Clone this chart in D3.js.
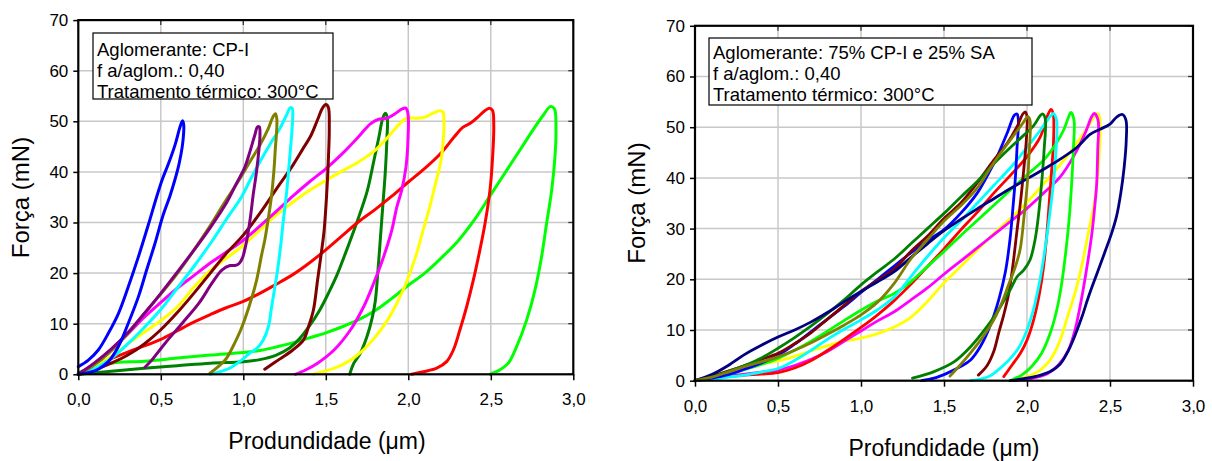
<!DOCTYPE html>
<html><head><meta charset="utf-8">
<script src="https://cdn.jsdelivr.net/npm/d3@7"></script>
<style>
body{margin:0;background:#fff}
svg{display:block}
text{font-family:Arial,"Liberation Sans",sans-serif;fill:#000}
</style>
</head><body>
<svg id="chart" width="1212" height="461"></svg>
<script>
// ---------- tick values / labels ----------
const xTicks = [0, 0.5, 1, 1.5, 2, 2.5, 3];
const yTicks = [0, 10, 20, 30, 40, 50, 60, 70];
const xDomain = [0, 3];
const yDomain = [0, 70];

const leftNote  = ["Aglomerante: CP-I", "f a/aglom.: 0,40", "Tratamento térmico: 300°C"];
const rightNote = ["Aglomerante: 75% CP-I e 25% SA", "f a/aglom.: 0,40", "Tratamento térmico: 300°C"];
const leftXTitle  = "Produndidade (\u03BCm)";
const rightXTitle = "Profundidade (\u03BCm)";
const yTitle = "Força (mN)";

// ---------- left panel series: [depth µm, force mN], loading then unloading ----------
const L_blue = [[0,1.5],[0.061,2.8],[0.121,4.8],[0.182,8.1],[0.243,12.0],[0.303,17.3],[0.364,23.2],[0.424,29.5],[0.475,35.1],[0.51,38.6],[0.545,41.5],[0.586,45.3],[0.612,48.4],[0.624,49.6],[0.632,50.1],[0.639,49.3],[0.638,47.5],[0.63,45],[0.61,41.5],[0.585,38.4],[0.555,35.2],[0.525,32.5],[0.505,30.5],[0.465,25.9],[0.414,20.6],[0.364,15.3],[0.303,10.1],[0.243,5.5],[0.182,2.5],[0.121,1.0],[0.061,0.3],[0.0,0]];
const L_purple = [[0,0],[0.1,2.3],[0.2,5.0],[0.3,8.2],[0.4,12.0],[0.5,16.0],[0.6,20.2],[0.7,24.5],[0.8,29.0],[0.9,34.0],[0.96,37.8],[1.01,41.0],[1.04,44.0],[1.07,47.3],[1.086,48.9],[1.097,48.9],[1.101,47.3],[1.095,44.5],[1.08,40],[1.06,35.5],[1.045,31.5],[1.025,27.2],[1.01,24.8],[0.995,23],[0.975,21.9],[0.95,21.5],[0.92,21.5],[0.87,20.6],[0.81,18.0],[0.73,14.0],[0.63,10.1],[0.525,6.1],[0.445,2.8],[0.404,1.4]];
const L_olive = [[0,0],[0.081,1.5],[0.182,4.1],[0.283,7.4],[0.384,11.4],[0.485,15.3],[0.586,19.3],[0.687,23.9],[0.788,28.8],[0.889,34.1],[0.98,38.7],[1.04,42.0],[1.101,45.3],[1.152,48.6],[1.18,50.9],[1.195,51.5],[1.203,50.5],[1.202,48],[1.195,45],[1.185,40],[1.17,35],[1.15,30.5],[1.13,26.5],[1.111,23.6],[1.08,18.5],[1.036,13.5],[0.986,8.9],[0.939,5.6],[0.899,3.2],[0.848,1.5],[0.798,0.2]];
const L_cyan = [[0,0],[0.101,1.2],[0.202,3.2],[0.303,6.1],[0.404,9.4],[0.505,13.0],[0.606,17.3],[0.707,21.6],[0.808,26.2],[0.909,31.2],[0.99,35.1],[1.04,38.3],[1.101,42.0],[1.172,46.0],[1.222,48.6],[1.263,51.3],[1.285,52.7],[1.297,52.5],[1.299,50.5],[1.293,47.3],[1.279,42.0],[1.263,36.1],[1.242,30.2],[1.225,25],[1.205,20],[1.19,17],[1.172,13.4],[1.152,9.4],[1.121,6.8],[1.081,5.1],[1.04,4.2],[0.99,2.8],[0.91,1.1],[0.8,0]];
const L_maroon = [[0,0],[0.1,0.9],[0.2,2.2],[0.3,3.8],[0.4,6.0],[0.5,8.8],[0.6,12.2],[0.7,16.0],[0.8,20.0],[0.9,24.0],[1.0,27.5],[1.1,31.8],[1.2,36.6],[1.3,41.3],[1.36,44.5],[1.41,47.2],[1.45,50.3],[1.48,52.6],[1.5,53.3],[1.515,52.8],[1.521,48.6],[1.515,42],[1.505,35.4],[1.49,28.5],[1.475,24.5],[1.45,18.6],[1.425,12.7],[1.395,9.4],[1.365,6.8],[1.3,4.8],[1.22,3.0],[1.13,1.0]];
const L_magenta = [[0,0],[0.1,2.2],[0.2,5.0],[0.3,8.0],[0.4,11.3],[0.5,14.2],[0.6,17.0],[0.7,19.5],[0.8,22.0],[0.9,24.2],[1.0,26.5],[1.1,29.3],[1.2,32.2],[1.3,35.2],[1.4,38.0],[1.5,40.6],[1.6,43.6],[1.7,47.0],[1.77,49.5],[1.82,50.4],[1.87,50.6],[1.92,51.5],[1.96,52.4],[1.985,52.6],[1.998,51.5],[1.998,46.3],[1.986,41.0],[1.96,36.4],[1.93,33.0],[1.9,28.5],[1.85,23.2],[1.79,18.0],[1.73,13.4],[1.65,8.8],[1.55,4.8],[1.45,2.2],[1.38,0.9],[1.315,0]];
const L_yellow = [[0,0],[0.1,1.5],[0.2,3.5],[0.3,6.0],[0.4,8.3],[0.5,10.6],[0.6,13.3],[0.7,17.2],[0.8,20.5],[0.9,23.0],[1.0,25.5],[1.1,28.5],[1.2,31.5],[1.3,34.0],[1.4,36.3],[1.5,38.3],[1.6,40.2],[1.7,42.0],[1.8,44.3],[1.88,47.0],[1.95,49.6],[1.99,50.6],[2.05,50.6],[2.1,50.8],[2.15,51.6],[2.19,52.1],[2.21,51.8],[2.216,50.3],[2.212,46.3],[2.195,41.7],[2.165,37.7],[2.13,33.1],[2.09,28.5],[2.045,23.3],[1.99,18.3],[1.93,14.0],[1.87,10.5],[1.8,7.4],[1.72,4.6],[1.64,2.6],[1.56,1.3],[1.49,0.6],[1.425,0]];
const L_dgreen = [[0,0],[0.2,0.6],[0.4,1.2],[0.6,1.7],[0.8,2.2],[1.0,2.5],[1.1,2.9],[1.2,3.8],[1.28,5.2],[1.34,7.0],[1.4,9.5],[1.46,12.5],[1.52,16.3],[1.57,19.8],[1.62,24.0],[1.69,30.2],[1.75,36.1],[1.79,42.0],[1.82,46.6],[1.845,50.6],[1.86,51.6],[1.872,50.9],[1.87,46.3],[1.86,39.7],[1.845,33.1],[1.83,26.5],[1.815,20],[1.8,14.5],[1.78,11],[1.75,7.5],[1.71,4.2],[1.67,2.2],[1.645,0]];
const L_red = [[0,0],[0.1,1.8],[0.2,3.1],[0.3,4.4],[0.4,5.6],[0.5,6.9],[0.6,8.6],[0.7,10.3],[0.8,11.8],[0.9,13.2],[1.0,14.4],[1.1,16.0],[1.2,17.8],[1.3,19.7],[1.4,22.0],[1.5,24.6],[1.6,27.4],[1.7,30.2],[1.8,32.6],[1.9,35.2],[2.0,38.0],[2.1,40.7],[2.2,43.8],[2.28,47.0],[2.33,48.8],[2.38,49.7],[2.42,50.8],[2.46,52.0],[2.49,52.6],[2.51,52.2],[2.518,49],[2.511,43.0],[2.495,36.4],[2.465,29.8],[2.434,24.6],[2.394,18.6],[2.354,13.4],[2.313,8.8],[2.273,4.8],[2.232,2.5],[2.172,1.2],[2.091,0.5],[2.02,0]];
const L_lime = [[0,0.3],[0.05,1.0],[0.1,1.5],[0.2,2.2],[0.4,2.6],[0.6,3.2],[0.8,3.8],[1.0,4.3],[1.1,4.7],[1.2,5.4],[1.3,6.2],[1.4,7.2],[1.5,8.2],[1.6,9.4],[1.7,10.8],[1.8,12.6],[1.9,15.0],[2.0,17.6],[2.1,20.0],[2.2,23.0],[2.3,26.3],[2.4,30.5],[2.5,35.5],[2.6,40.5],[2.7,45.5],[2.77,49.0],[2.82,51.3],[2.86,52.9],[2.885,52.5],[2.895,48.3],[2.889,43.0],[2.869,36.4],[2.838,29.8],[2.808,23.3],[2.768,16.7],[2.717,10.7],[2.657,5.5],[2.606,2.2],[2.556,0.9],[2.495,0]];

// ---------- right panel series ----------
const R_blue = [[0,0],[0.1,0.5],[0.2,1.2],[0.3,2.3],[0.4,3.5],[0.5,5.0],[0.6,7.2],[0.7,9.7],[0.8,12.2],[0.9,14.7],[1.0,17.4],[1.1,20.0],[1.2,22.6],[1.3,25.2],[1.4,27.6],[1.5,29.8],[1.6,33],[1.7,37],[1.77,41],[1.82,44.2],[1.88,48.8],[1.925,52.4],[1.94,52.6],[1.948,51.4],[1.94,46],[1.93,40],[1.915,34],[1.898,28],[1.87,21.5],[1.83,16],[1.78,11],[1.72,6.8],[1.66,4.1],[1.6,2.8],[1.52,1.5],[1.44,0.5],[1.365,0]];
const R_maroon = [[0,0],[0.1,0.9],[0.2,1.9],[0.3,3.0],[0.4,4.2],[0.5,5.4],[0.6,7.3],[0.7,9.5],[0.8,12.2],[0.9,14.9],[1.0,17.6],[1.1,19.8],[1.2,22.0],[1.3,25.5],[1.4,28.5],[1.5,32.0],[1.6,35.0],[1.7,39.0],[1.8,43.5],[1.88,46.8],[1.94,50.1],[1.975,52.6],[1.99,53.0],[2.0,52.1],[1.996,47.5],[1.982,42.2],[1.962,35.6],[1.938,29.1],[1.914,22.5],[1.89,17.2],[1.86,13],[1.83,9.5],[1.8,5.8],[1.76,3],[1.707,1.1]];
const R_olive = [[0,0],[0.1,0.7],[0.2,1.7],[0.3,2.8],[0.4,3.7],[0.5,4.7],[0.6,6.0],[0.7,7.5],[0.8,9.2],[0.9,11.0],[1.0,13.0],[1.1,15.5],[1.2,19.2],[1.3,24.0],[1.4,27.8],[1.5,31.5],[1.6,34.5],[1.7,38.0],[1.8,43.0],[1.9,47.5],[1.975,50.8],[2.005,52.1],[2.018,51.4],[2.014,45.5],[2.002,38.9],[1.982,32.3],[1.958,25.8],[1.925,22],[1.89,19],[1.85,15.5],[1.8,12],[1.72,8],[1.64,4.7],[1.57,2.1],[1.536,0.9]];
const R_dgreen = [[0,0],[0.1,0.7],[0.2,1.8],[0.3,3.0],[0.4,4.5],[0.5,6.4],[0.6,8.5],[0.7,10.8],[0.8,13.3],[0.9,16.0],[1.0,18.9],[1.1,21.5],[1.2,24.0],[1.3,27.0],[1.4,30.0],[1.5,33.0],[1.6,36.2],[1.7,39.3],[1.8,42.8],[1.9,46.0],[1.96,47.8],[2.04,50.3],[2.08,52.3],[2.095,52.6],[2.11,51.7],[2.103,45.5],[2.088,38.9],[2.068,32.3],[2.048,27.7],[2.018,23.8],[1.98,21.8],[1.94,20.5],[1.9,18],[1.84,14.6],[1.76,10.7],[1.66,6.7],[1.56,3.7],[1.44,1.8],[1.31,0.5]];
const R_red = [[0,0],[0.1,0.4],[0.2,0.8],[0.3,1.1],[0.4,1.3],[0.5,1.6],[0.6,2.5],[0.7,4.0],[0.8,6.0],[0.9,8.2],[1.0,10.5],[1.1,13.0],[1.2,15.8],[1.3,19.0],[1.4,22.5],[1.5,26.0],[1.6,29.7],[1.7,33.2],[1.8,37.0],[1.9,40.5],[2.0,44.2],[2.08,48.1],[2.125,52.4],[2.145,53.5],[2.158,52.6],[2.16,47.5],[2.15,42.2],[2.135,35.6],[2.12,29.1],[2.1,22.5],[2.075,17.2],[2.04,12],[2.0,8],[1.96,5.4],[1.91,3.1],[1.86,0.8]];
const R_cyan = [[0,0],[0.1,0.3],[0.2,0.7],[0.3,1.1],[0.4,1.7],[0.5,2.4],[0.6,4.0],[0.7,6.0],[0.8,8.2],[0.9,10.2],[1.0,12.0],[1.1,14.0],[1.2,16.5],[1.3,20.5],[1.4,24.5],[1.5,28.2],[1.6,31.5],[1.7,35],[1.8,38.5],[1.9,42],[2.0,46.0],[2.08,49.4],[2.14,52.1],[2.16,52.7],[2.178,51.4],[2.175,45.5],[2.159,38.9],[2.135,32.3],[2.108,25.8],[2.074,19.2],[2.038,13.9],[2.0,10.0],[1.95,6.5],[1.9,4.4],[1.85,2.8],[1.78,1.0],[1.72,0.3],[1.66,0]];
const R_lime = [[0,0],[0.1,0.6],[0.2,1.3],[0.3,2.2],[0.4,3.2],[0.5,4.4],[0.6,6.0],[0.7,7.8],[0.8,9.8],[0.9,11.9],[1.0,13.9],[1.1,15.7],[1.2,17.2],[1.3,19.5],[1.4,22.5],[1.5,25.5],[1.6,28.6],[1.7,31.6],[1.8,34.6],[1.9,37.6],[2.0,40.6],[2.1,43.5],[2.17,46.5],[2.22,49.4],[2.255,52.4],[2.265,52.9],[2.283,51.4],[2.279,45.5],[2.269,38.9],[2.255,32.3],[2.235,25.8],[2.209,19.2],[2.179,13.9],[2.139,9.3],[2.088,5.4],[2.028,2.8],[1.968,1.1],[1.918,0.3],[1.894,0]];
const R_yellow = [[0,0],[0.1,0.8],[0.2,1.7],[0.3,2.6],[0.4,3.3],[0.5,3.9],[0.6,4.8],[0.7,5.9],[0.8,6.9],[0.9,7.8],[1.0,8.4],[1.1,9.3],[1.2,10.6],[1.3,12.5],[1.4,15.6],[1.5,19.3],[1.6,22.5],[1.7,25.8],[1.8,29.0],[1.9,32.0],[2.0,35.2],[2.1,38.8],[2.2,42.6],[2.3,46.8],[2.38,50.8],[2.415,52.6],[2.43,52.6],[2.44,51.5],[2.435,44.7],[2.41,35.9],[2.37,29.3],[2.33,22.7],[2.29,17.4],[2.24,12.2],[2.2,8.0],[2.14,4.1],[2.08,2.1],[2.0,0.8],[1.92,0]];
const R_magenta = [[0,0],[0.1,0.5],[0.2,0.9],[0.3,1.3],[0.4,1.7],[0.5,2.1],[0.6,3.0],[0.7,4.2],[0.8,5.8],[0.9,7.8],[1.0,9.8],[1.1,11.8],[1.2,13.6],[1.3,15.9],[1.4,18.3],[1.5,21.0],[1.6,23.6],[1.7,26.2],[1.8,28.8],[1.9,31.4],[2.0,34.0],[2.1,37.0],[2.2,40.2],[2.28,44.2],[2.35,48.8],[2.39,52.1],[2.405,52.7],[2.428,51.4],[2.426,45.5],[2.42,38.9],[2.41,35],[2.39,28.8],[2.355,21.2],[2.32,14.7],[2.29,10.1],[2.25,6.1],[2.19,3.1],[2.12,1.3],[2.02,0.4],[1.92,0]];
const R_navy = [[0,0],[0.1,1.2],[0.2,3.0],[0.3,5.2],[0.4,7.0],[0.5,8.6],[0.6,10.0],[0.7,11.6],[0.8,13.5],[0.9,15.6],[1.0,17.6],[1.1,19.5],[1.2,21.5],[1.3,24.3],[1.4,27.0],[1.5,29.6],[1.6,31.8],[1.7,33.9],[1.8,35.9],[1.9,37.9],[2.0,39.8],[2.1,41.7],[2.2,43.7],[2.3,46.0],[2.38,48.6],[2.44,49.6],[2.5,50.6],[2.54,52.0],[2.575,52.5],[2.596,51.4],[2.598,47.5],[2.585,42],[2.565,37],[2.54,32.5],[2.51,29.1],[2.465,25],[2.42,21],[2.37,16.5],[2.33,12.5],[2.29,9],[2.25,6],[2.2,3.3],[2.14,1.8],[2.06,0.9],[1.98,0.4],[1.9,0]];

// ---------- colours ----------
const leftSeries = [
  {c:"#00ff00", d:L_lime}, {c:"#008000", d:L_dgreen}, {c:"#ff0000", d:L_red},
  {c:"#ffff00", d:L_yellow}, {c:"#ff00ff", d:L_magenta}, {c:"#800000", d:L_maroon},
  {c:"#00ffff", d:L_cyan}, {c:"#808000", d:L_olive}, {c:"#800080", d:L_purple},
  {c:"#0000ff", d:L_blue}
];
const rightSeries = [
  {c:"#ffff00", d:R_yellow}, {c:"#ff00ff", d:R_magenta}, {c:"#ff0000", d:R_red},
  {c:"#00ff00", d:R_lime}, {c:"#00ffff", d:R_cyan}, {c:"#0000ff", d:R_blue},
  {c:"#800000", d:R_maroon}, {c:"#008000", d:R_dgreen}, {c:"#000080", d:R_navy},
  {c:"#808000", d:R_olive}
];

// ---------- layout ----------
const panels = [
  {x0:78.3, x1:573.3, y0:374.3, y1:20.1, series:leftSeries, note:leftNote,
   noteBox:[93,33,240,66], noteX:97, noteY:[56,77,98],
   xTitle:leftXTitle, xt:[327,448.5], yt:[29,197.5], lw:3},
  {x0:695, x1:1193, y0:380.7, y1:25.8, series:rightSeries, note:rightNote,
   noteBox:[709,38,323,67], noteX:713, noteY:[59,80,101],
   xTitle:rightXTitle, xt:[944,455.5], yt:[645,203], lw:2.8}
];

const svg = d3.select("#chart");
const fmtX = d => d.toFixed(1).replace(".", ",");

panels.forEach(p => {
  const x = d3.scaleLinear().domain(xDomain).range([p.x0, p.x1]);
  const y = d3.scaleLinear().domain(yDomain).range([p.y0, p.y1]);
  const g = svg.append("g");

  // grid
  g.append("g").selectAll("line").data(xTicks.slice(1, -1)).join("line")
    .attr("x1", d => x(d)).attr("x2", d => x(d)).attr("y1", p.y0).attr("y2", p.y1)
    .attr("stroke", "#c8c8c8").attr("stroke-width", 1.5);
  g.append("g").selectAll("line").data(yTicks.slice(1, -1)).join("line")
    .attr("y1", d => y(d)).attr("y2", d => y(d)).attr("x1", p.x0).attr("x2", p.x1)
    .attr("stroke", "#c8c8c8").attr("stroke-width", 1.5);

  // inner ticks on top & right
  g.append("g").selectAll("line").data(yTicks).join("line")
    .attr("x1", p.x1 - 5).attr("x2", p.x1).attr("y1", d => y(d)).attr("y2", d => y(d))
    .attr("stroke", "#333").attr("stroke-width", 1.3);
  g.append("g").selectAll("line").data(xTicks).join("line")
    .attr("y1", p.y1 + 5).attr("y2", p.y1).attr("x1", d => x(d)).attr("x2", d => x(d))
    .attr("stroke", "#333").attr("stroke-width", 1.3);

  // curves
  const line = d3.line().x(d => x(d[0])).y(d => y(d[1])).curve(d3.curveCatmullRom.alpha(0.5));
  g.append("g").selectAll("path").data(p.series).join("path")
    .attr("d", s => line(s.d)).attr("fill", "none").attr("stroke", s => s.c)
    .attr("stroke-width", p.lw).attr("stroke-linejoin", "round").attr("stroke-linecap", "round");

  // axes
  const ax = g.append("g").attr("transform", `translate(0,${p.y0})`)
    .call(d3.axisBottom(x).tickValues(xTicks).tickFormat(fmtX).tickSize(6).tickPadding(13));
  const ay = g.append("g").attr("transform", `translate(${p.x0},0)`)
    .call(d3.axisLeft(y).tickValues(yTicks).tickFormat(d => d).tickSize(5).tickPadding(5));
  [ax, ay].forEach(a => {
    a.select(".domain").remove();
    a.selectAll(".tick line").attr("stroke", "#000").attr("stroke-width", 1.5);
    a.selectAll("text").attr("font-size", 17).attr("font-family", "Arial, 'Liberation Sans', sans-serif").attr("fill", "#000");
  });

  // frame
  g.append("rect").attr("x", p.x0).attr("y", p.y1).attr("width", p.x1 - p.x0).attr("height", p.y0 - p.y1)
    .attr("fill", "none").attr("stroke", "#000").attr("stroke-width", 2.2);

  // annotation
  const [bx, by, bw, bh] = p.noteBox;
  g.append("rect").attr("x", bx).attr("y", by).attr("width", bw).attr("height", bh)
    .attr("fill", "#fff").attr("stroke", "#000").attr("stroke-width", 1.2);
  g.append("g").selectAll("text").data(p.note).join("text")
    .attr("x", p.noteX).attr("y", (d, i) => p.noteY[i]).attr("font-size", 18.5).text(d => d);

  // titles
  g.append("text").attr("x", p.xt[0]).attr("y", p.xt[1]).attr("text-anchor", "middle")
    .attr("font-size", 23).text(p.xTitle);
  g.append("text").attr("transform", `translate(${p.yt[0]},${p.yt[1]}) rotate(-90)`)
    .attr("text-anchor", "middle").attr("font-size", 24).text(yTitle);
});
</script>
</body></html>
